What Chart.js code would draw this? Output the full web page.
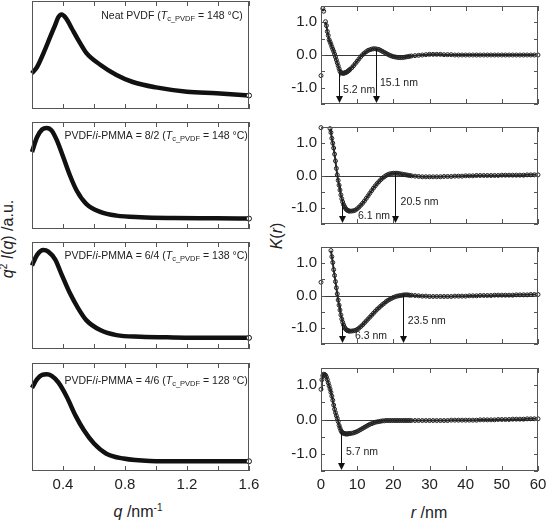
<!DOCTYPE html>
<html>
<head>
<meta charset="utf-8">
<script src="https://cdn.jsdelivr.net/npm/chart.js@4.4.0/dist/chart.umd.min.js"></script>
<style>
html, body { margin: 0; padding: 0; overflow: hidden; background: #fff; width: 546px; height: 522px; }
canvas { position: absolute; }
.ttl { position: absolute; font: 16px 'Liberation Sans', Arial, sans-serif; color: #222; white-space: nowrap; line-height: 18px; }
.ttl sup { font-size: 10px; vertical-align: 6px; line-height: 0; }
.rot { transform: translate(-50%, -50%) rotate(-90deg); }
</style>
</head>
<body>
<div class="ttl" style="left:88px;top:503px;width:100px;text-align:center"><i>q</i> /nm<sup>-1</sup></div>
<div class="ttl" style="left:379px;top:504px;width:100px;text-align:center"><i>r</i> /nm</div>
<div class="ttl rot" style="left:8px;top:239px"><i>q</i><sup>2</sup> <i>I</i>(<i>q</i>) /a.u.</div>
<div class="ttl rot" style="left:277px;top:236px"><i>K</i>(<i>r</i>)</div>
<script>
// q^2 I(q) curves, normalised to panel height (a.u.)
const qNeat = [0.20, 0.233, 0.275, 0.318, 0.35, 0.37, 0.39, 0.42, 0.455, 0.50, 0.55, 0.64, 0.745, 0.85, 1.0, 1.2, 1.39, 1.6];
const iNeat = [0.33, 0.39, 0.52, 0.67, 0.78, 0.85, 0.875, 0.84, 0.75, 0.635, 0.52, 0.41, 0.315, 0.25, 0.20, 0.16, 0.145, 0.125];
const q82 = [0.20, 0.233, 0.265, 0.295, 0.327, 0.36, 0.402, 0.445, 0.488, 0.55, 0.64, 0.745, 0.9, 1.11, 1.39, 1.6];
const i82 = [0.72, 0.86, 0.93, 0.945, 0.92, 0.83, 0.67, 0.5, 0.36, 0.235, 0.16, 0.125, 0.11, 0.103, 0.10, 0.097];
const q64 = [0.20, 0.233, 0.273, 0.305, 0.35, 0.39, 0.445, 0.498, 0.55, 0.64, 0.745, 0.9, 1.11, 1.39, 1.6];
const i64 = [0.78, 0.88, 0.925, 0.91, 0.835, 0.70, 0.52, 0.38, 0.27, 0.177, 0.13, 0.115, 0.108, 0.104, 0.104];
const q46 = [0.20, 0.233, 0.265, 0.295, 0.327, 0.37, 0.425, 0.48, 0.535, 0.60, 0.68, 0.79, 0.96, 1.175, 1.39, 1.6];
const i46 = [0.77, 0.85, 0.89, 0.895, 0.88, 0.82, 0.685, 0.515, 0.377, 0.254, 0.16, 0.115, 0.093, 0.09, 0.09, 0.09];

// correlation function K(r), r in nm
const rGrid = [
  0, 0.25, 0.5, 0.75, 1, 1.25, 1.5, 1.75, 2, 2.25, 2.5, 2.75, 3, 3.25, 3.5, 3.75, 4,
  4.25, 4.5, 4.75, 5, 5.25, 5.5, 5.75, 6, 6.25, 6.5, 6.75, 7, 7.25, 7.5, 7.75, 8,
  8.5, 9, 9.5, 10, 10.5, 11, 11.5, 12, 12.5, 13, 13.5, 14, 14.5, 15, 15.5, 16, 16.5,
  17, 17.5, 18, 18.5, 19, 19.5, 20, 20.5, 21, 21.5, 22, 22.5, 23, 23.5, 24, 24.5, 25,
  26, 27, 28, 29, 30, 31, 32, 33, 34, 35, 36, 37, 38, 39, 40, 41, 42, 43,
  44, 45, 46, 47, 48, 49, 50, 51, 52, 53, 54, 55, 56, 57, 58, 59, 60
];
const kNeat = [
  -0.63, null, 1.42, 1.34, null, 1.02, 0.9, 0.72, 0.6, 0.47, 0.4, 0.33, 0.25, 0.18, 0.11, 0.03, -0.06,
  -0.15, -0.24, -0.33, -0.42, -0.5, -0.54, -0.55, -0.56, -0.56, -0.55, -0.54, -0.53, -0.51, -0.49, -0.47, -0.44,
  -0.39, -0.33, -0.26, -0.19, -0.12, -0.05, 0.01, 0.06, 0.1, 0.14, 0.16, 0.18, 0.19, 0.19, 0.18, 0.17, 0.14,
  0.11, 0.08, 0.05, 0.02, -0.01, -0.03, -0.05, -0.06, -0.07, -0.08, -0.08, -0.08, -0.07, -0.06, -0.05, -0.04, -0.03,
  -0.02, -0.01, 0, 0.01, 0.02, 0.02, 0.02, 0.02, 0.01, 0.01, 0.01, 0, 0, 0, 0, 0, 0, 0,
  0, 0, 0, 0, 0, 0, 0, 0, 0, 0, 0, 0, 0, 0, 0, 0, 0
];
const k82 = [
  1.48, null, null, null, null, null, null, null, null, null, 1.45, 1.33, 1.15, 1.0, 0.85, 0.66, 0.45,
  0.22, 0.02, -0.15, -0.3, -0.45, -0.6, -0.72, -0.82, -0.9, -0.96, -1.01, -1.05, -1.07, -1.09, -1.1, -1.1,
  -1.1, -1.09, -1.07, -1.03, -0.98, -0.92, -0.86, -0.79, -0.71, -0.63, -0.55, -0.47, -0.39, -0.32, -0.25, -0.19, -0.13,
  -0.08, -0.04, 0, 0.03, 0.05, 0.06, 0.07, 0.07, 0.07, 0.06, 0.05, 0.04, 0.03, 0.02, 0.01, 0, -0.01,
  -0.02, -0.03, -0.04, -0.04, -0.04, -0.04, -0.04, -0.04, -0.03, -0.03, -0.03, -0.02, -0.02, -0.02, -0.01, -0.01, -0.01, 0,
  0, 0, 0, 0, 0, 0, 0.01, 0.01, 0.01, 0.01, 0.01, 0.01, 0.01, 0.02, 0.02, 0.02, 0.02
];
const k64 = [
  0.41, null, null, null, null, null, null, null, null, null, null, 1.39, 1.2, 1.02, 0.8, 0.62, 0.43,
  0.24, 0.05, -0.14, -0.3, -0.45, -0.6, -0.73, -0.83, -0.91, -0.98, -1.03, -1.06, -1.08, -1.09, -1.1, -1.1,
  -1.1, -1.09, -1.08, -1.05, -1.01, -0.96, -0.91, -0.85, -0.79, -0.73, -0.67, -0.61, -0.55, -0.49, -0.43, -0.38, -0.33,
  -0.28, -0.24, -0.19, -0.15, -0.12, -0.09, -0.06, -0.04, -0.02, -0.01, 0, 0.01, 0.02, 0.02, 0.02, 0.01, 0.01,
  0, -0.01, -0.02, -0.02, -0.03, -0.03, -0.03, -0.03, -0.03, -0.03, -0.03, -0.02, -0.02, -0.02, -0.02, -0.01, -0.01, -0.01,
  0, 0, 0, 0, 0.01, 0.01, 0.01, 0.01, 0.01, 0.01, 0.02, 0.02, 0.02, 0.02, 0.03, 0.03, 0.03
];
const k46 = [
  0.88, 1.16, 1.28, 1.32, 1.31, 1.29, 1.24, 1.16, 1.07, 0.98, 0.89, 0.79, 0.68, 0.56, 0.42, 0.3, 0.2,
  0.11, 0.03, -0.06, -0.17, -0.25, -0.32, -0.37, -0.39, -0.4, -0.41, -0.42, -0.42, -0.42, -0.42, -0.41, -0.41,
  -0.4, -0.39, -0.37, -0.35, -0.32, -0.29, -0.26, -0.23, -0.2, -0.17, -0.14, -0.12, -0.1, -0.08, -0.07, -0.06, -0.05,
  -0.04, -0.04, -0.03, -0.03, -0.03, -0.03, -0.03, -0.03, -0.03, -0.03, -0.03, -0.03, -0.03, -0.03, -0.03, -0.03, -0.03,
  -0.03, -0.03, -0.03, -0.03, -0.03, -0.03, -0.03, -0.03, -0.03, -0.03, -0.02, -0.02, -0.02, -0.02, -0.02, -0.02, -0.02, -0.02,
  -0.01, -0.01, -0.01, -0.01, -0.01, 0, 0, 0, 0, 0.01, 0.01, 0.01, 0.01, 0.02, 0.02, 0.02, 0.02
];

// long period / lamella markers: [r, K at arrow start]
const arrowsNeat = [[5.1, -0.55], [15.1, 0.18]];
const arrows82 = [[5.8, -0.78], [20.5, 0.07]];
const arrows64 = [[5.8, -0.87], [22.7, 0.02]];
const arrows46 = [[5.6, -0.37]];
const marksNeat = [['5.2 nm', 6.1, -1.07], ['15.1 nm', 16.3, -0.87]];
const marks82 = [['6.1 nm', 10.2, -1.25], ['20.5 nm', 22.0, -0.81]];
const marks64 = [['6.3 nm', 9.4, -1.25], ['23.5 nm', 24.0, -0.8]];
const marks46 = [['5.7 nm', 6.9, -0.94]];

const samples = ['Neat PVDF', '8/2', '6/4', '4/6'];
const tcPVDF = [148, 148, 138, 128];

const FAM = "'Liberation Sans', Arial, Helvetica, sans-serif";
Chart.defaults.font.family = FAM;
Chart.defaults.color = '#222';

const ROWS = [{top: 1, bottom: 109}, {top: 122, bottom: 229}, {top: 242, bottom: 349}, {top: 363, bottom: 471}];
const notePos = [[1.56, 0.864], [1.592, 0.87], [1.592, 0.867], [1.592, 0.833]];

function drawRuns(ctx, runs, x, y, align) {
  const fontOf = r => (r.i ? 'italic ' : '') + (r.sub ? 7.5 : 10.5) + 'px ' + FAM;
  let w = 0;
  runs.forEach(r => { ctx.font = fontOf(r); w += ctx.measureText(r.t).width; });
  let cx = align === 'right' ? x - w : x;
  ctx.textAlign = 'left';
  ctx.textBaseline = 'middle';
  ctx.fillStyle = '#222';
  runs.forEach(r => {
    ctx.font = fontOf(r);
    ctx.fillText(r.t, cx, y + (r.sub ? 3 : 0));
    cx += ctx.measureText(r.t).width;
  });
}

function makeDecor(cfg) {
  return {
    id: 'decor',
    beforeDatasetsDraw(chart) {
      if (!cfg.zero) return;
      const {ctx, chartArea: a} = chart;
      const y = Math.round(chart.scales.y.getPixelForValue(0)) + 0.5;
      ctx.save();
      ctx.strokeStyle = '#3a3a3a';
      ctx.lineWidth = 1;
      ctx.beginPath();
      ctx.moveTo(a.left, y);
      ctx.lineTo(a.right, y);
      ctx.stroke();
      ctx.restore();
    },
    afterDatasetsDraw(chart) {
      const {ctx, chartArea: a, scales} = chart;
      ctx.save();
      ctx.strokeStyle = '#555';
      ctx.lineWidth = 1;
      ctx.strokeRect(a.left + 0.5, a.top + 0.5, a.right - a.left - 1, a.bottom - a.top - 1);
      ctx.beginPath();
      scales.x.ticks.forEach(t => {
        const x = Math.round(scales.x.getPixelForValue(t.value)) + 0.5;
        ctx.moveTo(x, a.bottom); ctx.lineTo(x, a.bottom - 5);
        ctx.moveTo(x, a.top); ctx.lineTo(x, a.top + 5);
      });
      if (cfg.yTicks) {
        scales.y.ticks.forEach(t => {
          const y = Math.round(scales.y.getPixelForValue(t.value)) + 0.5;
          ctx.moveTo(a.left, y); ctx.lineTo(a.left + 4, y);
          ctx.moveTo(a.right, y); ctx.lineTo(a.right - 4, y);
        });
      }
      ctx.stroke();

      ctx.strokeStyle = '#111';
      ctx.fillStyle = '#111';
      (cfg.arrows || []).forEach(([r, k]) => {
        const x = Math.round(scales.x.getPixelForValue(r)) + 0.5;
        const y0 = scales.y.getPixelForValue(k);
        const y1 = a.bottom - 1;
        ctx.beginPath();
        ctx.moveTo(x, y0);
        ctx.lineTo(x, y1 - 6);
        ctx.stroke();
        ctx.beginPath();
        ctx.moveTo(x - 3.5, y1 - 7);
        ctx.lineTo(x + 3.5, y1 - 7);
        ctx.lineTo(x, y1);
        ctx.closePath();
        ctx.fill();
      });
      (cfg.notes || []).forEach(n => {
        drawRuns(ctx, n.runs, scales.x.getPixelForValue(n.x), scales.y.getPixelForValue(n.y), n.align);
      });
      ctx.restore();
    }
  };
}

function makeCanvas(left, top, w, h) {
  const c = document.createElement('canvas');
  c.width = w;
  c.height = h;
  c.style.left = left + 'px';
  c.style.top = top + 'px';
  c.style.width = w + 'px';
  c.style.height = h + 'px';
  document.body.appendChild(c);
  return c;
}

function sampleRuns(i) {
  const tail = [{t: 'T', i: 1}, {t: 'c_PVDF', sub: 1}, {t: ' = ' + tcPVDF[i] + ' °C)'}];
  if (i === 0) return [{t: samples[0] + ' ('}].concat(tail);
  return [{t: 'PVDF/'}, {t: 'i', i: 1}, {t: '-PMMA = ' + samples[i] + ' ('}].concat(tail);
}

function leftChart(i, q, v) {
  const row = ROWS[i];
  const last = i === 3;
  const xh = last ? 30 : 8;
  const cv = makeCanvas(0, row.top - 8, 266, row.bottom - row.top + 8 + xh);
  new Chart(cv, {
    type: 'line',
    data: {
      datasets: [{
        data: q.map((x, j) => ({x: x, y: v[j]})),
        borderColor: '#111',
        borderWidth: 4.5,
        cubicInterpolationMode: 'monotone',
        pointRadius: c => c.dataIndex === q.length - 1 ? 2.5 : 0,
        pointBackgroundColor: '#fff',
        pointBorderColor: '#111',
        pointBorderWidth: 1,
        fill: false,
        clip: 4
      }]
    },
    options: {
      responsive: false,
      animation: false,
      events: [],
      layout: {autoPadding: false, padding: {left: 32, right: 17, top: 8, bottom: 0}},
      plugins: {legend: {display: false}, tooltip: {enabled: false}},
      scales: {
        x: {
          type: 'linear', min: 0.2, max: 1.6,
          afterFit: s => { s.height = xh; },
          grid: {display: false, drawTicks: false},
          border: {display: false},
          ticks: {
            display: last, stepSize: 0.2, autoSkip: false, maxRotation: 0, padding: 5,
            font: {size: 15},
            callback: val => Math.abs(val / 0.4 - Math.round(val / 0.4)) < 1e-6 ? val.toFixed(1) : ''
          }
        },
        y: {
          min: 0, max: 1,
          afterFit: s => { s.width = 0; },
          grid: {display: false, drawTicks: false},
          border: {display: false},
          ticks: {display: false}
        }
      }
    },
    plugins: [makeDecor({
      notes: [{runs: sampleRuns(i), x: notePos[i][0], y: notePos[i][1], align: 'right'}]
    })]
  });
}

function rightChart(i, k, arrows, marks) {
  const row = ROWS[i];
  const last = i === 3;
  const xh = last ? 30 : 8;
  const cv = makeCanvas(285, row.top - 8, 273, row.bottom - row.top + 8 + xh);
  new Chart(cv, {
    type: 'line',
    data: {
      datasets: [{
        data: rGrid.map((r, j) => ({x: r, y: k[j]})),
        borderColor: '#2a2a2a',
        borderWidth: 2,
        spanGaps: false,
        pointRadius: 2,
        pointBorderWidth: 1,
        pointBorderColor: '#222',
        pointBackgroundColor: c => c.dataIndex === rGrid.length - 1 ? '#fff' : 'rgba(255,255,255,0)',
        fill: false,
        clip: 4
      }]
    },
    options: {
      responsive: false,
      animation: false,
      events: [],
      layout: {autoPadding: false, padding: {left: 0, right: 20, top: 8, bottom: 0}},
      plugins: {legend: {display: false}, tooltip: {enabled: false}},
      scales: {
        x: {
          type: 'linear', min: 0, max: 60,
          afterFit: s => { s.height = xh; },
          grid: {display: false, drawTicks: false},
          border: {display: false},
          ticks: {display: last, stepSize: 10, autoSkip: false, maxRotation: 0, padding: 5, font: {size: 15}}
        },
        y: {
          min: -1.5, max: 1.5,
          afterFit: s => { s.width = 36; },
          grid: {display: false, drawTicks: false},
          border: {display: false},
          ticks: {
            stepSize: 0.5, autoSkip: false, padding: 4, font: {size: 15},
            callback: val => Math.abs(val - Math.round(val)) < 1e-9 ? val.toFixed(1) : ''
          }
        }
      }
    },
    plugins: [makeDecor({
      zero: true,
      yTicks: true,
      arrows: arrows,
      notes: marks.map(m => ({runs: [{t: m[0]}], x: m[1], y: m[2], align: 'left'}))
    })]
  });
}

leftChart(0, qNeat, iNeat);
leftChart(1, q82, i82);
leftChart(2, q64, i64);
leftChart(3, q46, i46);
rightChart(0, kNeat, arrowsNeat, marksNeat);
rightChart(1, k82, arrows82, marks82);
rightChart(2, k64, arrows64, marks64);
rightChart(3, k46, arrows46, marks46);
</script>
</body>
</html>
